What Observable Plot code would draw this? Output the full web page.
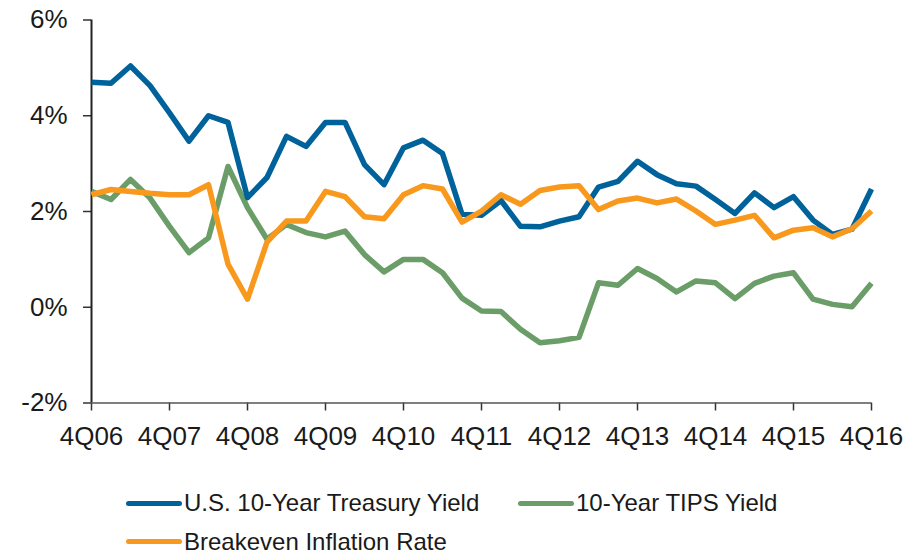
<!DOCTYPE html>
<html>
<head>
<meta charset="utf-8">
<script src="https://cdn.jsdelivr.net/npm/d3@7"></script>
<script src="https://cdn.jsdelivr.net/npm/@observablehq/plot@0.6"></script>
<style>
  html, body { margin: 0; padding: 0; background: #fff; }
  #wrap { width: 921px; height: 554px; position: relative; font-family: "Liberation Sans", Arial, sans-serif; }
  #legend { position: relative; width: 921px; height: 84px; }
  .item { position: absolute; display: flex; align-items: center; height: 24px; font-size: 24px; line-height: 24px; color: #1a1a1a; white-space: nowrap; }
  .sw { display: inline-block; width: 56px; height: 5px; border-radius: 3px; margin-right: 2px; }
</style>
</head>
<body>
<div id="wrap"><div id="chart"></div><div id="legend"></div></div>
<script>
// Tick labels (one per year, every 4 quarters)
const tickLabels = ["4Q06","4Q07","4Q08","4Q09","4Q10","4Q11","4Q12","4Q13","4Q14","4Q15","4Q16"];
const yTicks = [-2, 0, 2, 4, 6];

// Quarterly values, 4Q06 .. 4Q16 (41 quarters), in percent
const treasury = [4.70, 4.68, 5.04, 4.63, 4.06, 3.47, 4.00, 3.86, 2.29, 2.71, 3.57, 3.36, 3.86,
  3.86, 2.98, 2.56, 3.33, 3.49, 3.21, 1.94, 1.92, 2.23, 1.69, 1.68, 1.80, 1.89, 2.51,
  2.63, 3.05, 2.77, 2.58, 2.53, 2.25, 1.96, 2.39, 2.08, 2.31, 1.82, 1.52, 1.63, 2.47];
const tips = [2.42, 2.25, 2.67, 2.28, 1.69, 1.14, 1.45, 2.94, 2.08, 1.42, 1.73, 1.56, 1.47,
  1.59, 1.10, 0.74, 1.00, 1.00, 0.72, 0.19, -0.08, -0.09, -0.46, -0.74, -0.70, -0.63, 0.51,
  0.46, 0.81, 0.60, 0.32, 0.55, 0.51, 0.18, 0.50, 0.65, 0.72, 0.17, 0.06, 0.01, 0.50];
const breakeven = [2.35, 2.46, 2.42, 2.38, 2.35, 2.35, 2.56, 0.90, 0.17, 1.36, 1.80, 1.80, 2.42,
  2.31, 1.89, 1.85, 2.35, 2.54, 2.47, 1.78, 2.01, 2.35, 2.15, 2.44, 2.51, 2.54, 2.04,
  2.22, 2.28, 2.18, 2.26, 2.01, 1.73, 1.82, 1.92, 1.45, 1.61, 1.66, 1.47, 1.64, 2.01];

const seriesNames = ["U.S. 10-Year Treasury Yield", "10-Year TIPS Yield", "Breakeven Inflation Rate"];
const seriesColors = ["#00629B", "#6A9D68", "#F8991D"];
const seriesValues = [treasury, tips, breakeven];
// drawing order: TIPS, Treasury, Breakeven (on top)
const drawOrder = [1, 0, 2];

const font = '"Liberation Sans", Arial, sans-serif';

const lineMarks = drawOrder.map(s =>
  Plot.line(seriesValues[s].map((v, i) => ({q: i, v})), {
    x: "q", y: "v", stroke: seriesColors[s], strokeWidth: 5.5,
    strokeLinejoin: "round", strokeLinecap: "butt"
  })
);

const chart = Plot.plot({
  width: 921,
  height: 470,
  marginLeft: 91,
  marginRight: 50,
  marginTop: 19.5,
  marginBottom: 67.5,
  style: {fontFamily: font, fontSize: "26px", color: "#1a1a1a", background: "#fff", overflow: "visible"},
  x: {domain: [0, 40]},
  y: {domain: [-2, 6]},
  marks: [
    Plot.axisX({ticks: d3.range(0, 41, 4), tickFormat: i => tickLabels[i / 4], tickSize: 8, tickPadding: 16,
      fontSize: 26, strokeWidth: 1.5, stroke: "#333", label: null}),
    Plot.axisY({ticks: yTicks, tickFormat: d => d + "%", tickSize: 8, tickPadding: 16,
      fontSize: 26, strokeWidth: 1.5, stroke: "#333", label: null}),
    Plot.ruleX([0], {y1: -2, y2: 6, stroke: "#222", strokeWidth: 2}),
    Plot.ruleY([-2], {x1: 0, x2: 40, stroke: "#555", strokeWidth: 1.5}),
    ...lineMarks
  ]
});
document.getElementById("chart").appendChild(chart);

// Legend below the SVG
const legendPos = [
  {s: 0, left: 126, top: 33},
  {s: 1, left: 518, top: 33},
  {s: 2, left: 126, top: 71.5}
];
const legend = document.getElementById("legend");
legendPos.forEach(p => {
  const item = document.createElement("div");
  item.className = "item";
  item.style.left = p.left + "px";
  item.style.top = (p.top - 12) + "px";
  const sw = document.createElement("span");
  sw.className = "sw";
  sw.style.background = seriesColors[p.s];
  const tx = document.createElement("span");
  tx.textContent = seriesNames[p.s];
  item.appendChild(sw);
  item.appendChild(tx);
  legend.appendChild(item);
});
</script>
</body>
</html>
